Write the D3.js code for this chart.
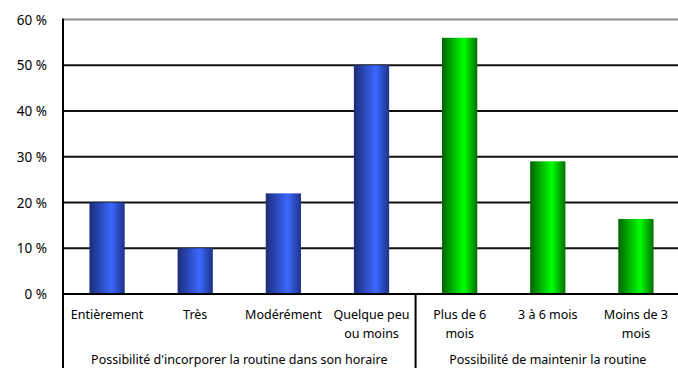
<!DOCTYPE html>
<html><head><meta charset="utf-8">
<script src="https://cdn.jsdelivr.net/npm/d3@7"></script>
<style>body{margin:0;background:#fff}svg{display:block}text{font-family:"Noto Sans",sans-serif;fill:#000}</style>
</head><body><svg id="c" width="678" height="368"></svg>
<script>
const categories = ["Entièrement","Très","Modérément","Quelque peu\nou moins","Plus de 6\nmois","3 à 6 mois","Moins de 3\nmois"];
const values = [20,10,22,50,56,29,16.4];
const groupOf = [0,0,0,0,1,1,1];
const groups = ["Possibilité d'incorporer la routine dans son horaire","Possibilité de maintenir la routine"];
const yTicks = [0,10,20,30,40,50,60];

const svg = d3.select("#c");
const L = 63, R = 680, T = 19.5, B = 294;
const x = d3.scaleBand().domain(categories).range([L,R]).paddingInner(0.6).paddingOuter(0.3);
const y = d3.scaleLinear().domain([0,60]).range([B,T]);

const defs = svg.append("defs");
function grad(id, edgeL, mid, edgeR){
  const g = defs.append("linearGradient").attr("id",id).attr("x1","0").attr("x2","1").attr("y1","0").attr("y2","0");
  g.append("stop").attr("offset","0").attr("stop-color",edgeL);
  g.append("stop").attr("offset","0.62").attr("stop-color",mid);
  g.append("stop").attr("offset","1").attr("stop-color",edgeR);
}
grad("gBlue","#1b2c78","#3b68ff","#1d3288");
grad("gGreen","#006400","#00ff00","#007000");

// gridlines
svg.append("g").selectAll("line").data(yTicks.filter(d=>d>0)).join("line")
  .attr("x1",L).attr("x2",678).attr("y1",d=>y(d)).attr("y2",d=>y(d))
  .attr("stroke",d=>d===60?"#8c8c8c":"#111").attr("stroke-width",d=>d===60?2:1.8);

// y axis labels
svg.append("g").selectAll("text").data(yTicks).join("text")
  .attr("x",47).attr("y",d=>y(d)+5).attr("text-anchor","end").attr("font-size",13.5)
  .text(d=>d+" %");

// bars
svg.append("g").selectAll("rect").data(categories).join("rect")
  .attr("x",d=>x(d)).attr("width",x.bandwidth())
  .attr("y",(d,i)=>y(values[i])).attr("height",(d,i)=>B-y(values[i]))
  .attr("fill",(d,i)=>groupOf[i]===0?"url(#gBlue)":"url(#gGreen)");

// axes lines
const step = x.step();
const sepX = L + 4*step;
svg.append("line").attr("x1",L).attr("x2",678).attr("y1",B).attr("y2",B).attr("stroke","#000").attr("stroke-width",2);
svg.append("line").attr("x1",L).attr("x2",L).attr("y1",T-1).attr("y2",368).attr("stroke","#000").attr("stroke-width",2);
svg.append("line").attr("x1",sepX).attr("x2",sepX).attr("y1",B).attr("y2",368).attr("stroke","#000").attr("stroke-width",2);

// category labels
const fs = 12.5;
const lab = svg.append("g").attr("font-size",fs);
categories.forEach((c,i)=>{
  const cx = x(c)+x.bandwidth()/2;
  const t = lab.append("text").attr("x",cx).attr("y",319).attr("text-anchor","middle");
  c.split("\n").forEach((ln,k)=>t.append("tspan").attr("x",cx).attr("dy",k?19:0).text(ln));
});

// group labels
const gCenters = [(L+sepX)/2, (sepX+R)/2];
svg.append("g").selectAll("text").data(groups).join("text")
  .attr("x",(d,i)=>gCenters[i]).attr("y",364).attr("text-anchor","middle").attr("font-size",fs)
  .text(d=>d);
</script></body></html>
